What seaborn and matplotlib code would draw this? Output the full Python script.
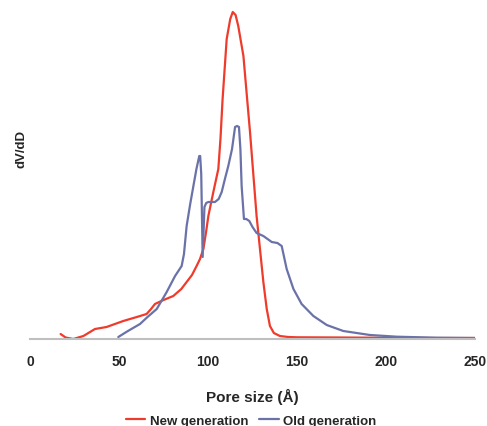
import matplotlib
matplotlib.use("Agg")
import matplotlib.pyplot as plt
import seaborn as sns
import pandas as pd

new_x = [17.2, 20, 24.3, 30, 36.5, 43, 52.4, 60, 65.5, 68, 70.2, 75, 80.5, 85, 88, 91, 93.6, 95.5, 97.4, 99,
         100.2, 103, 105.8, 107, 108.2, 110.5, 112.5, 113.9, 115.5, 117, 119.9, 121.5, 123.6, 127.3, 131.1,
         133, 134.8, 137, 140.4, 145, 150, 175, 200, 225, 250]
new_y = [5, 1.5, 0, 3, 10, 12, 18, 22, 25, 30, 35, 39, 43, 50, 57, 64, 73, 80, 90, 108,
         123, 147, 170, 200, 240, 300, 320, 327, 324, 313, 283, 250, 207, 123, 57,
         30, 13, 6, 3, 2, 1.7, 1.5, 1.2, 1, 1]

old_x = [49.6, 55, 61.8, 66, 71.2, 76.8, 81.5, 85.2, 86.5, 88, 90, 91.8, 93.5, 95.1, 95.6, 96.2, 97.0, 98.0,
         99.0, 100.2, 103.9, 106, 107.7, 109.5, 111.4, 113.5, 115.2, 116.3, 117.4, 118.2, 118.9, 120.2,
         121.5, 123.2, 125, 127.3, 131.1, 135.8, 139, 141.4, 144.2, 148, 152.6, 159.2, 166.7, 176, 191,
         206, 228.5, 250]
old_y = [2, 8, 15, 22, 30, 47, 63, 73, 85, 113, 135, 153, 170, 183, 183, 165, 82, 132,
         136, 137, 137, 140, 147, 160, 173, 190, 212, 213, 212, 190, 153, 120,
         120, 118, 112, 106, 103, 97, 96, 93, 70, 50, 35, 23, 14, 8, 4,
         2.3, 1.3, 1]

series_names = ["New generation", "Old generation"]
colors = ["#EF3B2C", "#6A72A8"]
x_ticks = [0, 50, 100, 150, 200, 250]

df = pd.concat([
    pd.DataFrame({"x": new_x, "y": new_y, "series": series_names[0]}),
    pd.DataFrame({"x": old_x, "y": old_y, "series": series_names[1]}),
])

sns.set_theme(style="white")
plt.rcParams["font.family"] = ["Liberation Sans", "DejaVu Sans"]
plt.rcParams["font.weight"] = "bold"

fig = plt.figure(figsize=(4.87, 4.27), dpi=100)
ax = fig.add_axes([30 / 487, 1 - 340 / 427, 445 / 487, 335 / 427])

sns.lineplot(data=df, x="x", y="y", hue="series", palette=colors, estimator=None,
             sort=False, linewidth=1.6, ax=ax)

ax.set_xlim(0, 250)
ax.set_ylim(0, 335)
ax.set_xticks(x_ticks)
ax.set_xticklabels([str(t) for t in x_ticks], fontsize=10, fontweight="bold")
ax.set_yticks([])
ax.tick_params(axis="x", length=0, pad=11)
for s in ["top", "right", "left"]:
    ax.spines[s].set_visible(False)
ax.spines["bottom"].set_color("#BFBFBF")
ax.spines["bottom"].set_linewidth(1.5)
ax.set_zorder(1)

ax.set_xlabel("Pore size (Å)", fontsize=11, fontweight="bold", labelpad=14)
ax.set_ylabel("dV/dD", fontsize=9.5, fontweight="bold")
ax.yaxis.set_label_coords(-0.005, 0.57)

ax.legend(title=None, loc="upper center", bbox_to_anchor=(0.497, -0.19), ncol=2, frameon=False,
          handlelength=1.5, handletextpad=0.35, columnspacing=0.8,
          prop={"weight": "bold", "size": 9.5})

fig.savefig("out.png", dpi=100)
